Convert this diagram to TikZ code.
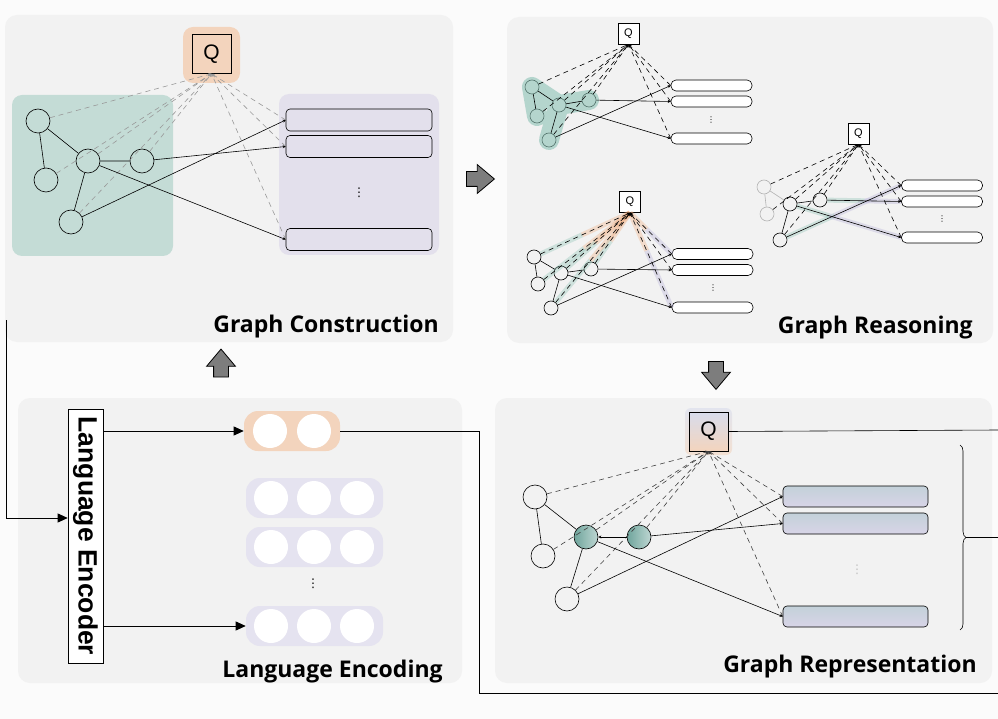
\documentclass[tikz,border=0pt]{standalone}
\usepackage{tikz}
\usepackage{xcolor}
\usepackage{fontspec}
\setmainfont{Liberation Sans}
\newfontfamily\headfont{Open Sans}
\newfontfamily\symfont{DejaVu Sans}
\usetikzlibrary{positioning, calc, arrows.meta, shapes.arrows, decorations.pathreplacing}

\definecolor{pagebg}{HTML}{FBFBFB}
\definecolor{panelbg}{HTML}{F2F2F2}
\definecolor{tealbox}{HTML}{C4DCD6}
\definecolor{lilacbox}{HTML}{E3E0EC}
\definecolor{peach}{HTML}{F3D4BD}
\definecolor{lilac}{HTML}{E5E3F0}
\definecolor{tealnode}{HTML}{6FA59C}
\definecolor{hlgreen}{HTML}{8CC2B5}
\definecolor{hlorange}{HTML}{F0AE80}
\definecolor{hlpurple}{HTML}{B5B0D8}
\definecolor{qblue}{HTML}{D8DCEC}
\definecolor{barblue}{HTML}{C3D1D9}
\definecolor{barlilac}{HTML}{D8D4E7}
\definecolor{arrowgray}{HTML}{7D7D7D}

\begin{document}
\begin{tikzpicture}[x=1pt,y=-1pt,line width=0.6pt,node distance=44pt,
    panel/.style={fill=panelbg,rounded corners=12pt},
    gnode/.style={circle,draw,minimum size=24pt,inner sep=0pt},
    snode/.style={circle,draw,minimum size=14pt,inner sep=0pt},
    qbox/.style={draw,minimum size=39pt,inner sep=0pt,font=\fontsize{21}{21}\selectfont},
    sqbox/.style={draw,fill=white,minimum size=21pt,inner sep=0pt,font=\fontsize{11}{11}\selectfont},
    bar/.style={draw,rounded corners=4pt,minimum width=146pt,minimum height=22pt,inner sep=0pt},
    sbar/.style={draw,fill=white,rounded corners=5pt,minimum width=81pt,minimum height=11pt,inner sep=0pt},
    qlink/.style={dash pattern=on 5pt off 4pt,-{Stealth[length=3pt,width=3pt]}},
    tobar/.style={-{Stealth[length=3pt,width=3pt]}},
    ray/.style={line width=5pt,opacity=0.35},
    title/.style={font=\headfont\bfseries\fontsize{23}{23}\selectfont,anchor=base east,inner sep=0pt},
    more/.style={font=\symfont\fontsize{#1}{#1}\selectfont,inner sep=0pt},
    tok/.style={circle,fill=white,minimum size=34pt,inner sep=0pt},
    pill/.style={rounded corners=14pt,minimum height=40pt,inner sep=0pt},
    bigarrow/.style={single arrow,draw,fill=arrowgray,line width=0.8pt,minimum height=28pt,
      single arrow head extend=7pt,inner sep=7pt,single arrow tip angle=80},
    flow/.style={-{Triangle[length=10pt,width=9pt]},line width=0.8pt}
  ]

  \fill[pagebg] (0,0) rectangle (998,719);
  \useasboundingbox (0,0) rectangle (998,719);

  % panels
  \fill[panel] (5,15) rectangle (453,342);
  \fill[panel] (507,17) rectangle (993,343);
  \fill[panel] (18,398) rectangle (462,683);
  \fill[panel] (495,398) rectangle (992,683);

  % ---- graph construction
  \fill[tealbox,rounded corners=10pt] (12,95) rectangle (173,256);
  \fill[lilacbox,rounded corners=10pt] (279,94) rectangle (439,255);
  \node[fill=peach,rounded corners=10pt,minimum width=57pt,minimum height=56pt] (qaback) at (211.5,55) {};
  \node[qbox] (qa) at (211.5,54) {Q};

  \node[gnode] (n1) at (38,121) {};
  \node[gnode] (n2) at (46,180) {};
  \node[gnode] (n3) at (88,161) {};
  \node[gnode] (n4) at (142,161) {};
  \node[gnode] (n5) at (71,222) {};

  \node[bar] (ba1) at (359,120) {};
  \node[bar] (ba2) at (359,146.5) {};
  \node[bar] (ba3) at (359,239.5) {};
  \node[more=12] (badots) at (359,193) {⋮};

  \foreach \t in {n1,n2,n3,n4,n5,ba1.west,ba2.west,ba3.west}
    \draw[qlink,gray!80] (\t) -- (qa.south);
  \draw (n1) -- (n3) (n1) -- (n2) (n3) -- (n4) (n3) -- (n5);
  \draw[tobar] (n4) -- (ba2.west);
  \draw[tobar] (n5) -- (ba1.west);
  \draw[tobar] (n3) -- (ba3.west);

  \node[title] (tgc) at (439,332) {Graph Construction};

  % ---- graph reasoning, first step
  \node[sqbox] (qb) at (628.5,33.5) {Q};
  \node[snode] (a1) at (532,87) {};
  \node[snode] (a2) at (537,116) {};
  \node[snode] (a3) at (559,105) {};
  \node[snode] (a4) at (589,100) {};
  \node[snode] (a5) at (549,140) {};
  \node[sbar] (bb1) at (711.5,85.5) {};
  \node[sbar] (bb2) at (711.5,101.5) {};
  \node[sbar] (bb3) at (711.5,138.5) {};
  \node[more=8] (bbdots) at (711,120) {⋮};

  \draw[hlgreen,opacity=0.6,line width=20pt,line cap=round,line join=round]
    (a2.center) -- (a1.center) -- (a3.center) -- (a4.center) (a3.center) -- (a5.center);
  \foreach \t in {a1,a2,a3,a4,a5,bb1.west,bb2.west,bb3.west}
    \draw[qlink] (\t) -- (qb.south);
  \draw (a1) -- (a3) (a1) -- (a2) (a3) -- (a4) (a3) -- (a5);
  \draw[tobar] (a4) -- (bb2.west);
  \draw[tobar] (a5) -- (bb1.west);
  \draw[tobar] (a3) -- (bb3.west);

  % ---- graph reasoning, second step
  \node[sqbox] (qc) at (630,202) {Q};
  \node[snode] (b1) at (534,257) {};
  \node[snode] (b2) at (538,284) {};
  \node[snode] (b3) at (561,273) {};
  \node[snode] (b4) at (591,269) {};
  \node[snode] (b5) at (551,308) {};
  \node[sbar] (cb1) at (712.5,254) {};
  \node[sbar] (cb2) at (712.5,270) {};
  \node[sbar] (cb3) at (712.5,307.5) {};
  \node[more=8] (cbdots) at (713,288) {⋮};

  \foreach \t in {b1,b2,b3,b4,b5} {
    \draw[ray,hlorange] (qc.south) -- ($(qc.south)!0.5!(\t)$);
    \draw[ray,hlgreen] ($(qc.south)!0.5!(\t)$) -- (\t);
  }
  \foreach \t in {cb1.west,cb3.west} {
    \draw[ray,hlorange] (qc.south) -- ($(qc.south)!0.4!(\t)$);
    \draw[ray,hlpurple] ($(qc.south)!0.4!(\t)$) -- (\t);
  }
  \foreach \t in {b1,b2,b3,b4,b5,cb1.west,cb2.west,cb3.west}
    \draw[qlink] (\t) -- (qc.south);
  \draw (b1) -- (b3) (b1) -- (b2) (b3) -- (b4) (b3) -- (b5);
  \draw[tobar] (b4) -- (cb2.west);
  \draw[tobar] (b5) -- (cb1.west);
  \draw[tobar] (b3) -- (cb3.west);

  % ---- graph reasoning, third step
  \node[sqbox] (qd) at (858.5,133.5) {Q};
  \node[snode,draw=gray!60] (c1) at (764,187) {};
  \node[snode,draw=gray!60] (c2) at (767,214) {};
  \node[snode] (c3) at (790,204) {};
  \node[snode] (c4) at (820,200) {};
  \node[snode] (c5) at (780,240) {};
  \node[sbar] (db1) at (942,185.5) {};
  \node[sbar] (db2) at (942,201.5) {};
  \node[sbar] (db3) at (942,237.5) {};
  \node[more=8] (dbdots) at (942,219) {⋮};

  \draw[ray,hlgreen] (c4) -- ($(c4)!0.55!(db2.west)$);
  \draw[ray,hlpurple] ($(c4)!0.55!(db2.west)$) -- (db2.west);
  \draw[ray,hlgreen] (c5) -- ($(c5)!0.45!(db1.west)$);
  \draw[ray,hlpurple] ($(c5)!0.45!(db1.west)$) -- (db1.west);
  \draw[ray,hlgreen] (c3) -- ($(c3)!0.35!(db3.west)$);
  \draw[ray,hlpurple] ($(c3)!0.35!(db3.west)$) -- (db3.west);
  \foreach \t in {c1,c2,c3,c4,c5,db1.west,db2.west,db3.west}
    \draw[qlink] (\t) -- (qd.south);
  \draw[gray!60] (c1) -- (c3) (c1) -- (c2);
  \draw (c3) -- (c4) (c3) -- (c5);
  \draw[tobar] (c4) -- (db2.west);
  \draw[tobar] (c5) -- (db1.west);
  \draw[tobar] (c3) -- (db3.west);

  \node[title] (tgr) at (973,333) {Graph Reasoning};

  % ---- language encoding
  \node[draw,fill=white,minimum width=254pt,minimum height=35pt,inner sep=0pt,rotate=-90,
        font=\bfseries\fontsize{26.5}{26.5}\selectfont] (enc) at (85.5,536) {Language Encoder};

  \node[pill,fill=peach,minimum width=96pt] (op) at (292,431) {};
  \node[tok] (o1) at (270,431) {};
  \node[tok] (o2) [right of=o1] {};

  \foreach \i/\y in {1/498,2/547,3/626} {
    \node[pill,fill=lilac,minimum width=137pt] (l\i) at (314.5,\y) {};
    \node[tok] (l\i a) at (271,\y) {};
    \node[tok] (l\i b) [right of=l\i a,node distance=43pt] {};
    \node[tok] (l\i c) [right of=l\i b,node distance=43pt] {};
  }
  \node[more=12] (ldots) at (313,584) {⋮};

  \coordinate (gcout) at (6,320);
  \coordinate (encin) at (6,518);
  \draw[flow] (gcout) -- (encin) -- (enc.south |- encin);
  \draw[flow] (enc.north |- op) -- (op.west);
  \draw[flow] (enc.north |- l3) -- (l3.west);

  \coordinate (opturn) at (479,693);
  \coordinate (opend) at (998,693);
  \draw (op.east) -| (opturn) -- (opend);

  \node[title] (tle) at (443,677) {Language Encoding};

  % ---- graph representation
  \node[rounded corners=6pt,minimum size=47pt,top color=qblue,bottom color=peach,opacity=0.6] (qeback) at (708.5,431.5) {};
  \node[qbox,top color=qblue,bottom color=peach] (qe) at (708.5,431.5) {Q};
  \coordinate (qeend) at (998,430);
  \draw (qe.east) -- (qeend);

  \node[gnode] (r1) at (535,497) {};
  \node[gnode] (r2) at (543,556) {};
  \node[gnode,left color=tealnode,right color=tealnode!45!white] (r3) at (586,537) {};
  \node[gnode,left color=tealnode,right color=tealnode!45!white] (r4) at (639,537) {};
  \node[gnode] (r5) at (567,599) {};
  \node[bar,top color=barblue,bottom color=barlilac,minimum width=145pt,minimum height=21pt] (eb1) at (855.5,496.5) {};
  \node[bar,top color=barblue,bottom color=barlilac,minimum width=145pt,minimum height=21pt] (eb2) at (855.5,523.5) {};
  \node[bar,top color=barblue,bottom color=barlilac,minimum width=145pt,minimum height=21pt] (eb3) at (855.5,616.5) {};
  \node[more=12,text=gray!50] (ebdots) at (857,570) {⋮};

  \foreach \t in {r1,r2,r3,r4,r5,eb1.west,eb2.west,eb3.west}
    \draw[qlink,black!75] (\t) -- (qe.south);
  \draw (r1) -- (r3) (r1) -- (r2) (r3) -- (r5);
  \draw[tobar] (r4) -- (r3);
  \draw[tobar] (r4) -- (eb2.west);
  \draw[tobar] (r5) -- (eb1.west);
  \draw[tobar] (r3) -- (eb3.west);

  \draw[decorate,decoration={brace,amplitude=6pt}] (960,445) -- (960,630);
  \coordinate (brtip) at (966,537.5);
  \coordinate (brend) at (998,537.5);
  \draw (brtip) -- (brend);

  \node[title] (tgrep) at (977,672) {Graph Representation};

  % ---- flow between the panels
  \node[bigarrow] (gotoGR) at (476,179) {};
  \node[bigarrow,rotate=90] (gotoGC) at (221,367.5) {};
  \node[bigarrow,rotate=-90] (gotoGRep) at (716,371) {};
\end{tikzpicture}
\end{document}
